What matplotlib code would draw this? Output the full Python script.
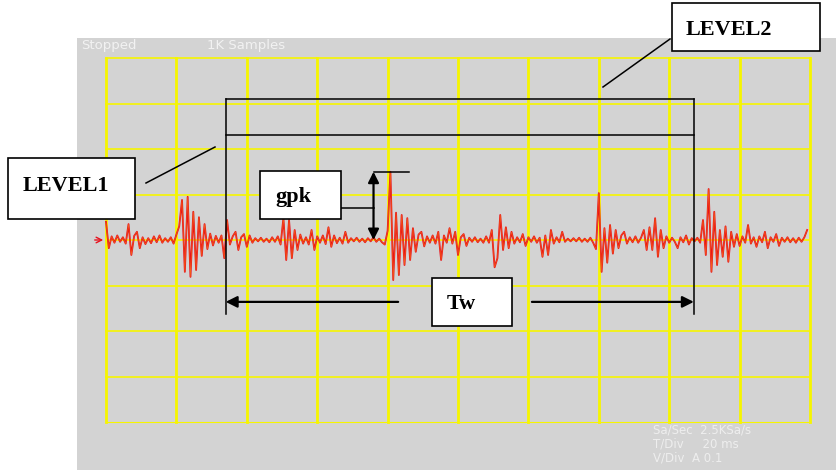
import numpy as np
import matplotlib
matplotlib.use("Agg")
import matplotlib.pyplot as plt
from matplotlib.patches import Rectangle

# ---------------- data ----------------
sample_step_ms = 0.8          # spacing of the values below
signal_mV = [
    40, -18, 8, -6, 10, -4, 6, -8, 35, -33,
    9, 18, -18, 6, -9, 4, -7, 8, -5, 10,
    -6, 4, -4, 6, -8, 12, 30, 88, -70, 95,
    -81, 62, -66, 50, -35, 35, -20, 14, -12, 9,
    -6, 10, -40, 44, -10, 8, 18, -22, 6, 13,
    -15, 10, -6, 4, -3, 5, -4, 3, -5, 6,
    -4, 8, -10, 48, -44, 44, -40, 22, -22, 12,
    -8, 6, -10, 22, -22, 8, -6, 10, -9, 28,
    -15, 10, -7, 5, -8, 18, -6, 4, -3, 5,
    -4, 3, -5, 4, -3, 6, -4, 3, -5, -10,
    20, 150, -88, 60, -77, 55, -55, 48, -44, 26,
    -26, 12, 18, -14, 8, -6, 10, -8, 18, -44,
    10, -6, 26, -8, 18, -33, 6, 13, -13, 5,
    -4, 6, -5, 3, -6, 8, -6, 22, -60, -40,
    55, -22, 28, -18, 18, -8, 6, -5, 13, -13,
    6, -4, 8, -6, 5, -37, 10, -33, 22, -8,
    6, -5, 18, -4, 3, -3, 4, -3, 5, -4,
    3, -4, 5, -6, -20, 103, -70, 26, -50, 33,
    -30, 22, -18, 10, 18, -8, 6, -5, 8, -6,
    5, 22, -22, 28, -22, 48, -37, 22, -18, 8,
    -6, 5, -4, -18, 6, -5, 10, -10, 4, -3,
    5, -6, 44, -33, 112, -70, 62, -55, 22, -37,
    30, -48, 18, -15, 13, -13, 8, -6, 33, -8,
    6, -15, 8, -5, 18, -18, 6, -4, 13, -13,
    5, -4, 6, -5, 4, -6, 5, -4, 6, 22,
]
time_div_ms = 20
volt_div_mV = 100
n_xdiv = 10
n_ydiv = 8

level1_mV = 230
level2_mV = 310
tw_start_ms = 34
tw_end_ms = 167
gpk_time_ms = 76
tw_arrow_mV = -136
bracket_bottom_mV = -163

status_left = "Stopped"
status_mid = "1K Samples"
info_lines = ["Sa/Sec  2.5KSa/s", "T/Div     20 ms", "V/Div  A 0.1"]

# ---------------- figure ----------------
W, H = 836, 470
fig = plt.figure(figsize=(W / 100, H / 100), dpi=100)
fig.patch.set_facecolor("white")

bg = fig.add_axes([0, 0, 1, 1], zorder=0)
bg.set_xlim(0, W); bg.set_ylim(H, 0); bg.axis("off")
bg.add_patch(Rectangle((77, 38), W - 77, H - 38, facecolor="#d3d3d3", edgecolor="none"))
bg.text(81, 46, status_left, color="#f2f2f2", fontsize=9.5, va="center", ha="left",
        family="DejaVu Sans")
bg.text(207, 46, status_mid, color="#f2f2f2", fontsize=9.5, va="center", ha="left",
        family="DejaVu Sans")
for k, line in enumerate(info_lines):
    bg.text(653, 430 + 14 * k, line, color="#eeeeee", fontsize=8.5, va="center",
            ha="left", family="DejaVu Sans")

# scope graticule axes
L, R, T, B = 106, 810, 58, 422
scope = fig.add_axes([L / W, (H - B) / H, (R - L) / W, (B - T) / H], zorder=1)
scope.patch.set_visible(False)
scope.axis("off")
xmax = n_xdiv * time_div_ms
ymax = n_ydiv / 2 * volt_div_mV
scope.set_xlim(0, xmax)
scope.set_ylim(-ymax, ymax)

yellow = "#f6f500"
for t in np.arange(0, xmax + 1, time_div_ms):
    scope.axvline(t, color=yellow, lw=2.0, clip_on=False, zorder=1)
for v in np.arange(-ymax, ymax + 1, volt_div_mV):
    lw = 0.8 if v == -ymax else 1.2
    scope.axhline(v, color=yellow, lw=lw, clip_on=False, zorder=1)

sig = np.array(signal_mV, dtype=float)
t = np.arange(len(sig)) * sample_step_ms
scope.plot(t, sig, color="#e8101c", lw=1.3, clip_on=False, zorder=3)
scope.plot(t, sig, color="#ff9a10", lw=0.4, alpha=0.6, clip_on=False, zorder=4)
# channel marker
scope.annotate("", xy=(0, 0), xytext=(-4, 0),
               arrowprops=dict(arrowstyle="->", color="#e8101c", lw=1.0),
               annotation_clip=False, zorder=4)

# annotation geometry in signal units
k = "black"
lwk = 1.1
scope.plot([tw_start_ms, tw_end_ms], [level2_mV, level2_mV], color=k, lw=lwk, clip_on=False, zorder=5)
scope.plot([tw_start_ms, tw_end_ms], [level1_mV, level1_mV], color=k, lw=lwk, clip_on=False, zorder=5)
for x0 in (tw_start_ms, tw_end_ms):
    scope.plot([x0, x0], [level2_mV, bracket_bottom_mV], color=k, lw=lwk, clip_on=False, zorder=5)

gpk_mV = sig.max()
scope.annotate("", xy=(gpk_time_ms, gpk_mV), xytext=(gpk_time_ms, 0),
               arrowprops=dict(arrowstyle="<|-|>", color=k, lw=1.6, mutation_scale=16,
                               shrinkA=0, shrinkB=0),
               annotation_clip=False, zorder=6)
scope.plot([gpk_time_ms, gpk_time_ms + 10], [gpk_mV, gpk_mV], color=k, lw=lwk, clip_on=False, zorder=5)

scope.annotate("", xy=(tw_start_ms, tw_arrow_mV), xytext=(83, tw_arrow_mV),
               arrowprops=dict(arrowstyle="-|>", color=k, lw=1.6, mutation_scale=17,
                               shrinkA=0, shrinkB=0),
               annotation_clip=False, zorder=6)
scope.annotate("", xy=(tw_end_ms, tw_arrow_mV), xytext=(121, tw_arrow_mV),
               arrowprops=dict(arrowstyle="-|>", color=k, lw=1.6, mutation_scale=17,
                               shrinkA=0, shrinkB=0),
               annotation_clip=False, zorder=6)

# overlay: label boxes and leader lines (pixel layout)
ov = fig.add_axes([0, 0, 1, 1], zorder=2)
ov.set_xlim(0, W); ov.set_ylim(H, 0); ov.axis("off")
ov.patch.set_visible(False)

serif = ["Liberation Serif", "DejaVu Serif"]
boxes = [
    ((672, 3, 148, 48), "LEVEL2", (686, 35)),
    ((8, 158, 127, 61), "LEVEL1", (23, 191)),
    ((260, 171, 81, 48), "gpk", (275, 202)),
    ((432, 278, 80, 48), "Tw", (447, 309)),
]
for (x, y, w, h), label, (tx, ty) in boxes:
    ov.add_patch(Rectangle((x, y), w, h, facecolor="white", edgecolor="black", lw=1.2, zorder=3))
    ov.text(tx, ty, label, fontsize=16, fontweight="bold", family=serif,
            ha="left", va="baseline", zorder=4)

ov.plot([670, 603], [39, 87], color=k, lw=lwk)
ov.plot([146, 215], [183, 147], color=k, lw=lwk)
ov.plot([341, 374], [208, 208], color=k, lw=lwk)

fig.savefig("out.png", dpi=100)
